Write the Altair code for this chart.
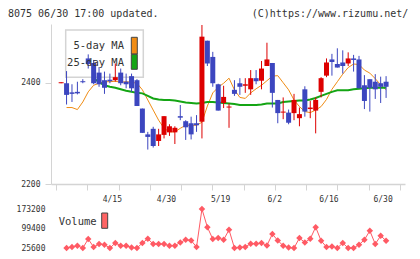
import altair as alt
import numpy as np
import pandas as pd

# Daily candles, 4/1 .. 6/30 (index 0 .. 60)
opens = [2399, 2399, 2381, 2382, 2403, 2448, 2439, 2420, 2405, 2406,
         2405, 2420, 2402, 2413, 2405, 2349, 2298, 2309, 2285, 2297,
         2302, 2302, 2334, 2324, 2320, 2320, 2323, 2483, 2451, 2397,
         2360, 2351, 2386, 2399, 2394, 2387, 2409, 2404, 2433, 2439,
         2366, 2341, 2341, 2340, 2330, 2387, 2348, 2345, 2382, 2414,
         2446, 2437, 2440, 2438, 2448, 2446, 2395, 2407, 2402, 2399,
         2402]
highs = [2401, 2423, 2397, 2402, 2407, 2456, 2445, 2431, 2422, 2418,
         2438, 2428, 2418, 2418, 2407, 2349, 2303, 2313, 2309, 2334,
         2318, 2314, 2356, 2326, 2333, 2336, 2514, 2483, 2461, 2398,
         2394, 2359, 2405, 2409, 2409, 2425, 2425, 2443, 2479, 2439,
         2366, 2371, 2347, 2378, 2351, 2393, 2364, 2371, 2411, 2448,
         2457, 2468, 2464, 2460, 2455, 2453, 2415, 2407, 2417, 2412,
         2413]
lows = [2399, 2357, 2362, 2377, 2399, 2428, 2397, 2392, 2378, 2399,
        2402, 2395, 2389, 2382, 2354, 2301, 2268, 2272, 2275, 2290,
        2295, 2279, 2326, 2287, 2288, 2303, 2290, 2433, 2392, 2345,
        2350, 2311, 2374, 2376, 2380, 2376, 2397, 2387, 2433, 2351,
        2320, 2328, 2318, 2326, 2314, 2333, 2330, 2300, 2371, 2411,
        2414, 2430, 2418, 2433, 2422, 2389, 2348, 2343, 2368, 2360,
        2370]
closes = [2401, 2376, 2378, 2379, 2401, 2437, 2399, 2397, 2390, 2403,
          2411, 2399, 2397, 2389, 2354, 2301, 2293, 2275, 2298, 2334,
          2314, 2311, 2331, 2312, 2298, 2316, 2491, 2438, 2399, 2345,
          2372, 2353, 2378, 2392, 2397, 2409, 2403, 2428, 2446, 2380,
          2340, 2343, 2321, 2366, 2338, 2343, 2351, 2366, 2409, 2440,
          2441, 2430, 2433, 2448, 2445, 2389, 2364, 2390, 2387, 2392,
          2392]

# Moving averages (index 0 has none)
ma5 = [None, 2351, 2351, 2347, 2362, 2382, 2395, 2399, 2402, 2402,
       2403, 2401, 2402, 2401, 2399, 2386, 2366, 2346, 2326, 2310,
       2303, 2303, 2310, 2316, 2316, 2316, 2322, 2354, 2380, 2391,
       2399, 2409, 2386, 2371, 2369, 2380, 2388, 2395, 2404, 2413,
       2414, 2400, 2386, 2366, 2353, 2343, 2341, 2346, 2353, 2367,
       2387, 2402, 2417, 2430, 2437, 2436, 2425, 2419, 2408, 2396,
       2386]
ma25 = [None, 2472, 2459, 2445, 2433, 2419, 2409, 2401, 2395, 2392,
        2390, 2387, 2384, 2382, 2380, 2379, 2374, 2369, 2367, 2366,
        2366, 2365, 2363, 2361, 2360, 2359, 2360, 2362, 2362, 2361,
        2360, 2359, 2358, 2356, 2356, 2356, 2356, 2357, 2359, 2359,
        2359, 2362, 2363, 2364, 2365, 2365, 2367, 2370, 2374, 2378,
        2382, 2385, 2385, 2385, 2387, 2388, 2389, 2390, 2390, 2390,
        2390]

volume = [None, 25600, 29400, 34200, 25600, 59400, 29400, 40600, 38000, 25600,
          44400, 34200, 34200, 27900, 25600, 44400, 60500, 40600, 40600, 40600,
          34200, 34200, 46600, 56800, 54100, 29400, 173200, 104500, 59400, 63200,
          56800, 94300, 25600, 27900, 29400, 41700, 41700, 44400, 35400, 78200,
          54100, 34200, 27900, 25600, 63200, 46600, 60500, 104500, 53000, 29400,
          31600, 25600, 44400, 25600, 25600, 38000, 56800, 90600, 40600, 71800,
          53000]

date_idx = [10, 20, 30, 40, 50, 60]
date_labels = ["4/15", "4/30", "5/19", "6/2", "6/16", "6/30"]

price_ticks = [2200, 2400]
volume_ticks = [25600, 99400, 173200]

RED = "#dd0000"
BLUE = "#3c46bf"
ORANGE = "#f08c14"
GREEN = "#14a514"
VOL = "#ff5a64"
GRID = "#d4d4d4"
TEXT = "#333333"
MONO = "DejaVu Sans Mono"

# plot area: price panel on top (0..160), volume panel below (185..224)
W, H = 354, 224
PRICE_RANGE = [160, 0]
VOL_RANGE = [224, 185]
X_DOMAIN = [-0.95, 62.57]
x_ticks = [float(v) for v in np.linspace(X_DOMAIN[0], X_DOMAIN[1], 12)]

n = len(closes)
candles = pd.DataFrame({"i": range(n), "open": opens, "high": highs,
                        "low": lows, "close": closes})
candles["dir"] = np.where(candles["close"] >= candles["open"], "up", "down")
ma = pd.DataFrame({"i": range(n), "ma5": ma5, "ma25": ma25})
vol = pd.DataFrame({"i": range(n), "volume": volume}).dropna()
dates = pd.DataFrame({"i": date_idx, "label": date_labels})

x_scale = alt.Scale(domain=X_DOMAIN, nice=False, zero=False)
x_main = alt.X("i:Q", scale=x_scale, title=None,
               axis=alt.Axis(values=x_ticks, labels=False, tickSize=6, grid=False,
                             offset=-(H - PRICE_RANGE[0]),
                             domainColor=GRID, tickColor=GRID, domainWidth=1.5))
y_scale = alt.Scale(domain=[2200, 2516], range=PRICE_RANGE, nice=False, zero=False)
y_axis = alt.Axis(values=price_ticks, format="d", tickSize=6, grid=False,
                  domainColor=GRID, tickColor=GRID, labelPadding=5)


def price_y(field):
    return alt.Y(field, scale=y_scale, axis=y_axis, title=None)


dir_color = alt.Color("dir:N", legend=None,
                      scale=alt.Scale(domain=["up", "down"], range=[RED, BLUE]))

ma5_line = alt.Chart(ma).mark_line(color=ORANGE, strokeWidth=1).encode(
    x=x_main, y=price_y("ma5:Q"))
ma25_line = alt.Chart(ma).mark_line(color=GREEN, strokeWidth=2).encode(
    x=x_main, y=price_y("ma25:Q"))

one = pd.DataFrame({"k": [0]})
legend_box = alt.Chart(one).mark_rect(fill="white", stroke=GRID, strokeWidth=1.5).encode(
    x=alt.value(14.7), x2=alt.value(92.3), y=alt.value(6), y2=alt.value(53.3))

wicks = alt.Chart(candles).mark_rule(strokeWidth=1).encode(
    x=x_main, y=price_y("low:Q"), y2="high:Q", color=dir_color)
bodies = alt.Chart(candles).mark_bar(size=5).encode(
    x=x_main, y=price_y("open:Q"), y2="close:Q", color=dir_color)

ma_text = alt.Chart(pd.DataFrame({"t": ["5-day MA"]})).mark_text(
    font=MONO, fontSize=10.5, color=TEXT, align="right", baseline="middle"
).encode(text="t:N", x=alt.value(73), y=alt.value(22))
ma_text2 = alt.Chart(pd.DataFrame({"t": ["25-day MA"]})).mark_text(
    font=MONO, fontSize=10.5, color=TEXT, align="right", baseline="middle"
).encode(text="t:N", x=alt.value(73), y=alt.value(38.5))
ma_swatch_o = alt.Chart(one).mark_rect(fill=ORANGE, stroke="#444444", strokeWidth=1).encode(
    x=alt.value(80.3), x2=alt.value(86.3), y=alt.value(13.3), y2=alt.value(30))
ma_swatch_g = alt.Chart(one).mark_rect(fill=GREEN, stroke="#444444", strokeWidth=1).encode(
    x=alt.value(80.3), x2=alt.value(86.3), y=alt.value(30.3), y2=alt.value(45.3))

header_left = alt.Chart(pd.DataFrame({"t": ["8075 06/30 17:00 updated."]})).mark_text(
    font=MONO, fontSize=10, color=TEXT, align="left", baseline="alphabetic"
).encode(text="t:N", x=alt.value(-43), y=alt.value(-7.5))
header_right = alt.Chart(pd.DataFrame({"t": ["(C)https://www.rizumu.net/"]})).mark_text(
    font=MONO, fontSize=10, color=TEXT, align="right", baseline="alphabetic"
).encode(text="t:N", x=alt.value(357.3), y=alt.value(-7.5))

date_text = alt.Chart(dates).mark_text(
    font=MONO, fontSize=8, color=TEXT, align="center", baseline="alphabetic", dx=-3
).encode(x=x_main, text="label:N", y=alt.value(PRICE_RANGE[0] + 17.5))

y_vol = alt.Y("volume:Q", title=None,
              scale=alt.Scale(domain=[25600, 173200], range=VOL_RANGE,
                              nice=False, zero=False),
              axis=alt.Axis(values=volume_ticks, format="d", ticks=False, domain=False,
                            grid=False, labelPadding=6, orient="left"))
vol_line = alt.Chart(vol).mark_line(color=VOL, strokeWidth=1).encode(x=x_main, y=y_vol)
vol_pts = alt.Chart(vol).mark_point(shape="diamond", filled=True, size=42,
                                    color=VOL, opacity=1).encode(x=x_main, y=y_vol)
vol_text = alt.Chart(pd.DataFrame({"t": ["Volume"]})).mark_text(
    font=MONO, fontSize=10.5, color=TEXT, align="left", baseline="middle"
).encode(text="t:N", x=alt.value(7.7), y=alt.value(VOL_RANGE[1] + 12.7))
vol_swatch = alt.Chart(one).mark_rect(fill="#ff6464", stroke="#444444", strokeWidth=1).encode(
    x=alt.value(50.7), x2=alt.value(56.7),
    y=alt.value(VOL_RANGE[1] + 4), y2=alt.value(VOL_RANGE[1] + 19.3))

price_layer = alt.layer(
    ma5_line, ma25_line, legend_box, wicks, bodies,
    ma_text, ma_text2, ma_swatch_o, ma_swatch_g, header_left, header_right, date_text
)
volume_layer = alt.layer(vol_line, vol_pts, vol_text, vol_swatch)

chart = alt.layer(price_layer, volume_layer).resolve_scale(
    y="independent"
).resolve_axis(y="independent").properties(
    width=W, height=H,
    padding={"left": 51, "top": 24, "right": 15, "bottom": 11},
    autosize=alt.AutoSizeParams(type="none"),
    background="white",
).configure_view(stroke=None).configure_axis(
    labelFont=MONO, labelFontSize=8, labelColor=TEXT,
)

chart.save("out.html", embed_options={"renderer": "svg", "actions": False})
